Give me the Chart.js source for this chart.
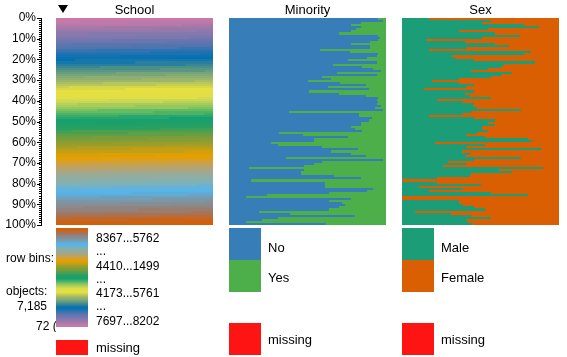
<!DOCTYPE html>
<html><head><meta charset="utf-8">
<script src="https://cdn.jsdelivr.net/npm/chart.js@4.4.1/dist/chart.umd.min.js"></script>
<style>
body{margin:0;background:#fff;width:567px;height:357px;overflow:hidden;position:relative;font-family:"Liberation Sans",Arial,sans-serif;color:#000}
canvas{position:absolute;top:0}
.t{position:absolute;white-space:nowrap;line-height:1}
.f12{font-size:12px}.f13{font-size:13px}
.box{position:absolute}
</style></head><body>
<canvas id="axis" width="42" height="357" style="left:0"></canvas>
<canvas id="school" width="157" height="357" style="left:56px"></canvas>
<canvas id="minority" width="157" height="357" style="left:229px"></canvas>
<canvas id="sex" width="157" height="357" style="left:402px"></canvas>

<div class="t f13" style="left:56px;width:157px;text-align:center;top:3px">School</div>
<div class="t f13" style="left:229px;width:157px;text-align:center;top:3px">Minority</div>
<div class="t f13" style="left:402px;width:157px;text-align:center;top:3px">Sex</div>
<div class="box" style="left:58px;top:5px;width:0;height:0;border-left:5px solid transparent;border-right:5px solid transparent;border-top:8px solid #000"></div>

<div class="t f12" style="left:6px;top:252px;width:50px;overflow:hidden">row bins: 100</div>
<div class="t f12" style="left:6px;top:285px">objects:</div>
<div class="t f12" style="left:17px;top:300px">7,185</div>
<div class="t f12" style="left:36px;top:320px;width:20px;overflow:hidden">72 (per bin)</div>

<div id="strip" class="box" style="left:56px;top:228px;width:32px;height:99px"></div>
<div class="box" style="left:56px;top:340px;width:32px;height:15px;background:#FF1414"></div>
<div id="schoolLeg"></div>
<div class="t f13" style="left:96px;top:341px">missing</div>

<div class="box" style="left:229px;top:228px;width:32px;height:32px;background:#377EB8"></div>
<div class="box" style="left:229px;top:260px;width:32px;height:32px;background:#4DAF4A"></div>
<div class="box" style="left:229px;top:323px;width:32px;height:32px;background:#FF1414"></div>
<div class="t f13" style="left:268px;top:241px">No</div>
<div class="t f13" style="left:268px;top:271px">Yes</div>
<div class="t f13" style="left:268px;top:333px">missing</div>

<div class="box" style="left:402px;top:228px;width:32px;height:32px;background:#1B9E77"></div>
<div class="box" style="left:402px;top:260px;width:32px;height:32px;background:#D95F02"></div>
<div class="box" style="left:402px;top:323px;width:32px;height:32px;background:#FF1414"></div>
<div class="t f13" style="left:441px;top:241px">Male</div>
<div class="t f13" style="left:441px;top:271px">Female</div>
<div class="t f13" style="left:441px;top:333px">missing</div>

<script>
// ---------- data ----------
const binLabels = Array.from({length:100}, (_, i) => String(i + 1));
const pctTicks = [0,10,20,30,40,50,60,70,80,90,100];
const schoolLegendLabels = ["8367...5762", "...", "4410...1499", "...", "4173...5761", "...", "7697...8202"];
const minorityCategories = ["No", "Yes"];
const sexCategories = ["Male", "Female"];

// share (%) of each row bin taken by the first (upper) school in that bin
const schoolFirstShare = [
 100,15,45,80,30,62,90,20,50,85,
 35,70,10,48,78,25,60,92,40,72,
 12,50,82,28,66,95,38,70,18,55,
 88,30,64,8,44,76,22,58,90,34,
 68,14,50,84,26,62,94,40,72,16,
 52,86,30,66,10,46,80,24,58,92,
 36,70,14,48,82,28,64,96,38,74,
 18,54,88,32,66,8,44,78,22,58,
 90,36,70,12,48,84,28,62,94,40,
 74,18,52,86,30,66,10,46,80,100];

// % minority = Yes per bin
const minorityYes = [
 5,2,16,22,16,19,22,30,5,4, 5,10,22,10,10,42,23,5,6,12,
 24,6,34,15,8,3,31,6,41,35, 50,29,13,37,11,49,30,13,5,6,
 5,6,3,7,2,62,17,17,9,11, 16,16,22,20,15,68,53,24,46,46,
 73,69,41,18,35,22,13,64,2,41, 46,52,87,52,54,54,33,16,86,39,
 39,39,8,12,36,76,89,22,36,28, 26,30,36,81,61,20,69,79,89,38];

// % male per bin
const sexMale = [
 17,57,51,78,87,55,36,59,75,51, 15,40,59,68,41,17,82,78,31,34,
 46,85,65,63,55,44,70,64,57,36, 19,36,46,41,14,46,40,43,57,22,
 39,46,45,48,76,44,39,17,46,59, 55,59,51,51,55,48,41,53,80,83,
 21,53,41,89,38,43,40,76,46,29, 41,26,90,62,70,44,43,22,0,22,
 50,11,39,17,57,80,0,0,36,36, 39,46,53,8,31,44,57,41,42,45];

// ---------- styles ----------
const FONT = '"Liberation Sans", Arial, sans-serif';
Chart.defaults.font.family = FONT;
const schoolStops = [
 [0,'#cc79a7'],[2,'#c279a8'],[5,'#a078aa'],[8,'#8478ad'],[11,'#6b76ae'],[14,'#4f74ae'],
 [17,'#1f72b1'],[20,'#0072b2'],[22,'#2a7ea0'],[24,'#4a9088'],[27,'#78a47a'],[30,'#9ab56c'],
 [33,'#c8cf50'],[35,'#e5e040'],[38,'#e2df44'],[40,'#cad655'],[42,'#a8cc5a'],[44,'#7cc35e'],
 [46,'#4db366'],[49,'#14a070'],[53,'#2aa060'],[56,'#5e9f48'],[59,'#869c34'],[62,'#a29e26'],
 [65,'#d49f0c'],[67,'#e69f00'],[70,'#d0a040'],[73,'#b0a478'],[76,'#98aa98'],[79,'#84b0b0'],
 [82,'#64b2da'],[84,'#56b4e9'],[86,'#6aa4c8'],[88,'#7898a8'],[90,'#868e94'],[92,'#908482'],
 [94,'#a07660'],[96,'#b86c3c'],[98,'#cc6214'],[100,'#d55e00']];
function hex2rgb(h){return [1,3,5].map(k=>parseInt(h.substr(k,2),16));}
function schoolColor(p){
  p = Math.max(0, Math.min(100, p));
  for (let k = 1; k < schoolStops.length; k++) {
    const [p1,c1] = schoolStops[k-1], [p2,c2] = schoolStops[k];
    if (p <= p2) {
      const t = (p - p1) / (p2 - p1), a = hex2rgb(c1), b = hex2rgb(c2);
      return 'rgb(' + a.map((v,j)=>Math.round(v + (b[j]-v)*t)).join(',') + ')';
    }
  }
  return schoolStops[schoolStops.length-1][1];
}

// legend strip (reversed palette)
document.getElementById('strip').style.background =
  'linear-gradient(to bottom,' + schoolStops.slice().reverse().map(s => s[1] + ' ' + (100 - s[0]) + '%').join(',') + ')';
const legTops = [232, 245, 260, 273, 287, 300, 315];
const legBox = document.getElementById('schoolLeg');
schoolLegendLabels.forEach((s, i) => {
  const d = document.createElement('div');
  d.className = 't f12'; d.style.left = '96px'; d.style.top = legTops[i] + 'px';
  d.textContent = s; legBox.appendChild(d);
});

// snap bar edges to whole pixels (crisp rows, no seams)
const snapPx = v => Math.round(Math.round(v * 1000) / 1000);
const snapBars = {
  id:'snapBars',
  afterDatasetsUpdate(chart){
    chart.data.datasets.forEach((ds, di) => {
      chart.getDatasetMeta(di).data.forEach(el => {
        const top = snapPx(el.y - el.height / 2), bot = snapPx(el.y + el.height / 2);
        el.y = (top + bot) / 2; el.height = bot - top;
        el.x = snapPx(el.x); el.base = snapPx(el.base);
      });
    });
  }
};

function barOptions(){
  return {
    responsive:false, animation:false, indexAxis:'y',
    layout:{padding:{top:18,bottom:132,left:0,right:0}},
    plugins:{legend:{display:false}, tooltip:{enabled:false}},
    scales:{
      x:{stacked:true, min:0, max:100, display:false},
      y:{stacked:true, display:false}
    },
    datasets:{bar:{categoryPercentage:1, barPercentage:1, borderWidth:0, inflateAmount:0}}
  };
}

new Chart(document.getElementById('school'), {
  type:'bar',
  data:{labels:binLabels, datasets:[
    {label:'first school', data:schoolFirstShare, backgroundColor:c=>schoolColor(c.dataIndex)},
    {label:'next school', data:schoolFirstShare.map(v=>100-v), backgroundColor:c=>schoolColor(c.dataIndex+1)}
  ]},
  options:barOptions(),
  plugins:[snapBars]
});
new Chart(document.getElementById('minority'), {
  type:'bar',
  data:{labels:binLabels, datasets:[
    {label:minorityCategories[0], data:minorityYes.map(v=>100-v), backgroundColor:'#377EB8'},
    {label:minorityCategories[1], data:minorityYes, backgroundColor:'#4DAF4A'}
  ]},
  options:barOptions(),
  plugins:[snapBars]
});
new Chart(document.getElementById('sex'), {
  type:'bar',
  data:{labels:binLabels, datasets:[
    {label:sexCategories[0], data:sexMale, backgroundColor:'#1B9E77'},
    {label:sexCategories[1], data:sexMale.map(v=>100-v), backgroundColor:'#D95F02'}
  ]},
  options:barOptions(),
  plugins:[snapBars]
});

const majorTicks = {
  id:'majorTicks',
  afterDraw(chart){
    const s = chart.scales.y, c = chart.ctx;
    c.save(); c.strokeStyle = '#000'; c.lineWidth = 1; c.beginPath();
    pctTicks.forEach(v => {
      const y = Math.round(s.getPixelForValue(v)) + 0.5;
      c.moveTo(s.right - 4, y); c.lineTo(s.right - 1, y);
    });
    c.stroke(); c.restore();
  }
};
new Chart(document.getElementById('axis'), {
  type:'scatter',
  data:{datasets:[{data:[]}]},
  options:{
    responsive:false, animation:false,
    layout:{padding:{top:18,bottom:132,left:0,right:0}},
    plugins:{legend:{display:false}, tooltip:{enabled:false}},
    scales:{
      x:{display:false, min:0, max:1},
      y:{
        position:'left', min:0, max:100, reverse:true,
        afterFit:s=>{s.width = 41;},
        ticks:{stepSize:1, autoSkip:false, maxTicksLimit:200, padding:3, color:'#000',
               font:{size:12, family:FONT},
               callback:v => pctTicks.includes(v) ? v + '%' : ''},
        grid:{drawOnChartArea:false, tickLength:2, color:'#000', tickColor:'#000'},
        border:{display:true, color:'#000'}
      }
    }
  },
  plugins:[majorTicks]
});
</script>
</body></html>
